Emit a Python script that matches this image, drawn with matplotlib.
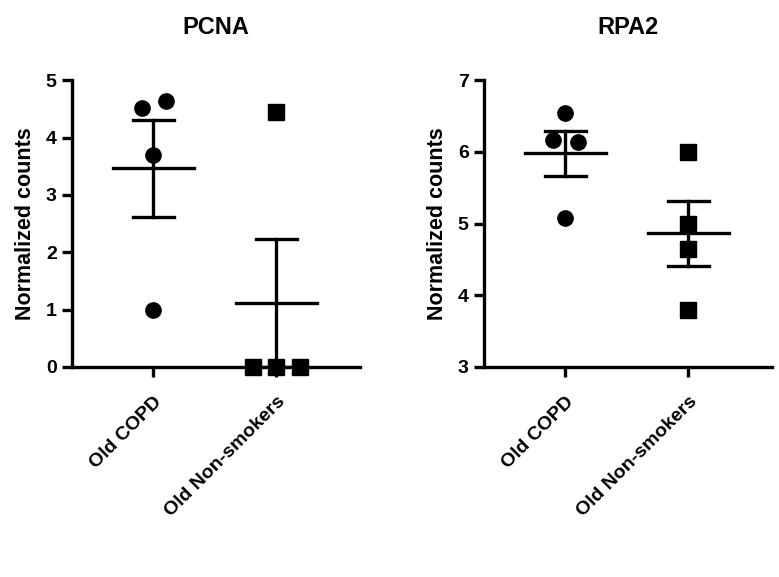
import numpy as np
import matplotlib.pyplot as plt

plt.rcParams['font.family'] = ['Liberation Sans', 'DejaVu Sans']
plt.rcParams['font.weight'] = 'bold'

# ---- data ----
groups = ["Old COPD", "Old Non-smokers"]

pcna_copd = [4.52, 4.63, 3.70, 1.00]
pcna_nonsmk = [4.45, 0.0, 0.0, 0.0]
rpa2_copd = [6.54, 6.17, 6.14, 5.08]
rpa2_nonsmk = [6.00, 5.00, 4.65, 3.80]

# horizontal scatter of overlapping dots
pcna_copd_dx = [-0.09, 0.10, 0.0, 0.0]
pcna_nonsmk_dx = [0.0, -0.19, 0.0, 0.19]
rpa2_copd_dx = [0.0, -0.10, 0.10, 0.0]
rpa2_nonsmk_dx = [0.0, 0.0, 0.0, 0.0]

panels = [
    ("PCNA", [pcna_copd, pcna_nonsmk], [pcna_copd_dx, pcna_nonsmk_dx], (0, 5), [0, 1, 2, 3, 4, 5]),
    ("RPA2", [rpa2_copd, rpa2_nonsmk], [rpa2_copd_dx, rpa2_nonsmk_dx], (3, 7), [3, 4, 5, 6, 7]),
]
markers = ["o", "s"]

fig = plt.figure(figsize=(7.79, 5.77), dpi=100)
positions = [[0.0924, 0.364, 0.370, 0.497],
             [0.6213, 0.364, 0.370, 0.497]]

lw = 2.4
for (title, series, offsets, ylim, yticks), pos in zip(panels, positions):
    ax = fig.add_axes(pos)
    for i, (vals, dx) in enumerate(zip(series, offsets)):
        vals = np.array(vals)
        xs = i + np.array(dx)
        ax.plot(xs, vals, linestyle="none", marker=markers[i], markersize=11,
                color="black", clip_on=False, zorder=3)
        m = vals.mean()
        sem = vals.std(ddof=1) / np.sqrt(len(vals))
        ax.plot([i - 0.33, i + 0.33], [m, m], color="black", lw=lw, zorder=4)
        ax.plot([i, i], [m - sem, m + sem], color="black", lw=lw, zorder=4)
        for y in (m - sem, m + sem):
            ax.plot([i - 0.165, i + 0.165], [y, y], color="black", lw=lw, zorder=4)

    ax.set_xlim(-0.66, 1.68)
    ax.set_ylim(*ylim)
    ax.set_yticks(yticks)
    ax.set_xticks([0, 1])
    ax.set_xticklabels(groups, rotation=45, ha="right", rotation_mode="anchor",
                       fontsize=12.5, fontweight="bold")
    ax.tick_params(axis="both", width=lw, length=7, labelsize=14)
    ax.tick_params(axis="x", pad=12)
    ax.tick_params(axis="y", pad=4)
    for s in ("top", "right"):
        ax.spines[s].set_visible(False)
    for s in ("left", "bottom"):
        ax.spines[s].set_linewidth(lw)
    ax.set_ylabel("Normalized counts", fontsize=15.5, fontweight="bold", labelpad=7)
    ax.set_title(title, fontsize=17, fontweight="bold", pad=33)

fig.savefig("out.png", dpi=100)
